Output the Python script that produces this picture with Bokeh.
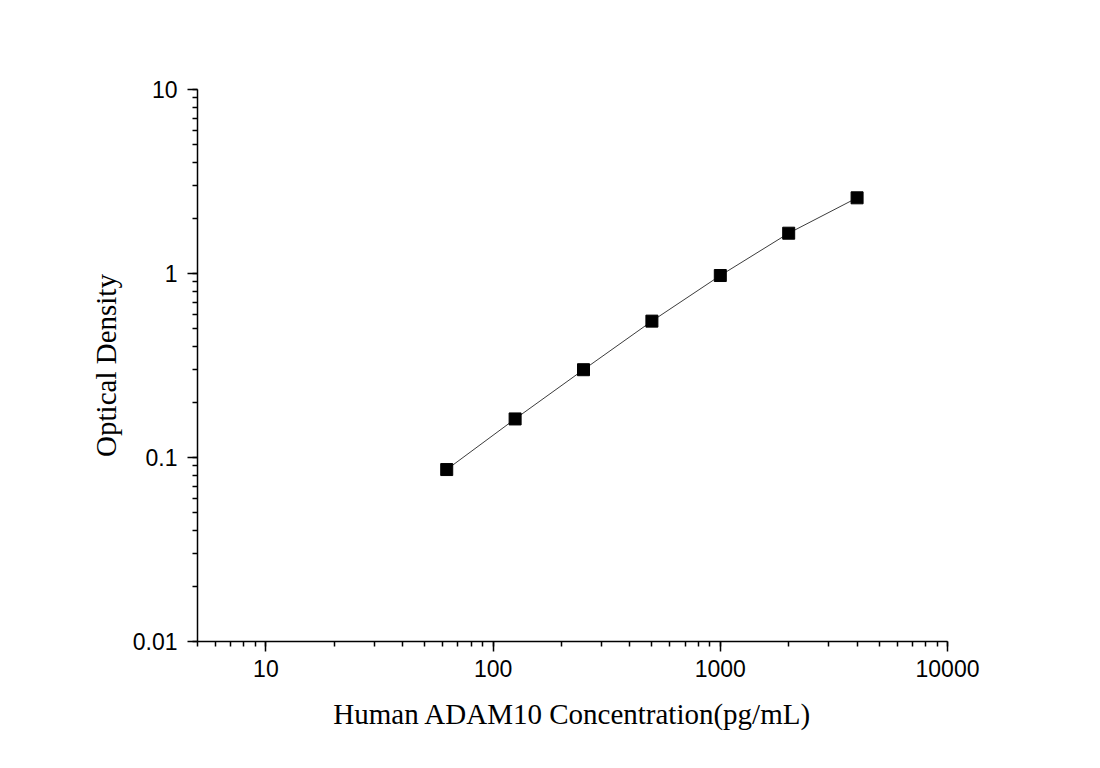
from bokeh.plotting import figure
from bokeh.embed import file_html
from bokeh.resources import INLINE
from bokeh.models import ColumnDataSource, CustomJSTickFormatter, Range1d

# Standard curve values
concentration = [62.5, 125, 250, 500, 1000, 2000, 4000]
optical_density = [0.086, 0.162, 0.300, 0.551, 0.975, 1.656, 2.578]

x_label = "Human ADAM10 Concentration(pg/mL)"
y_label = "Optical Density"

src = ColumnDataSource(dict(x=concentration, y=optical_density))

p = figure(
    frame_width=750, frame_height=552,
    min_border_left=197, min_border_right=145,
    min_border_top=89, min_border_bottom=120,
    x_axis_type="log", y_axis_type="log",
    x_range=Range1d(5, 10000), y_range=Range1d(0.01, 10),
    output_backend="svg", toolbar_location=None,
    background_fill_color="white", border_fill_color="white",
    outline_line_color=None,
)
p.grid.visible = False

# fitted curve + standards
p.line("x", "y", source=src, line_color="#3c3c3c", line_width=1)
p.scatter("x", "y", source=src, marker="square", size=12,
          fill_color="black", line_color="black")

# ── Axes styling ──
fmt = CustomJSTickFormatter(code="return Number(tick.toPrecision(6)).toString()")
for ax in (p.xaxis, p.yaxis):
    ax.formatter = fmt
    ax.axis_line_width = 1.5
    ax.axis_line_color = "black"
    ax.major_tick_line_width = 1.5
    ax.minor_tick_line_width = 1.5
    ax.major_tick_line_color = "black"
    ax.minor_tick_line_color = "black"
    ax.major_tick_in = 0
    ax.major_tick_out = 10
    ax.minor_tick_in = 0
    ax.minor_tick_out = 5
    ax.major_label_text_font = "Liberation Sans"
    ax.major_label_text_font_size = "23px"
    ax.major_label_text_color = "black"
    ax.axis_label_text_font = "Liberation Serif"
    ax.axis_label_text_font_size = "29px"
    ax.axis_label_text_font_style = "normal"
    ax.axis_label_text_color = "black"

p.xaxis.axis_label = x_label
p.yaxis.axis_label = y_label
p.xaxis.major_label_standoff = 8
p.yaxis.major_label_standoff = 10
p.xaxis.axis_label_standoff = 18
p.yaxis.axis_label_standoff = 8

open("out.html", "w").write(file_html(p, INLINE))
